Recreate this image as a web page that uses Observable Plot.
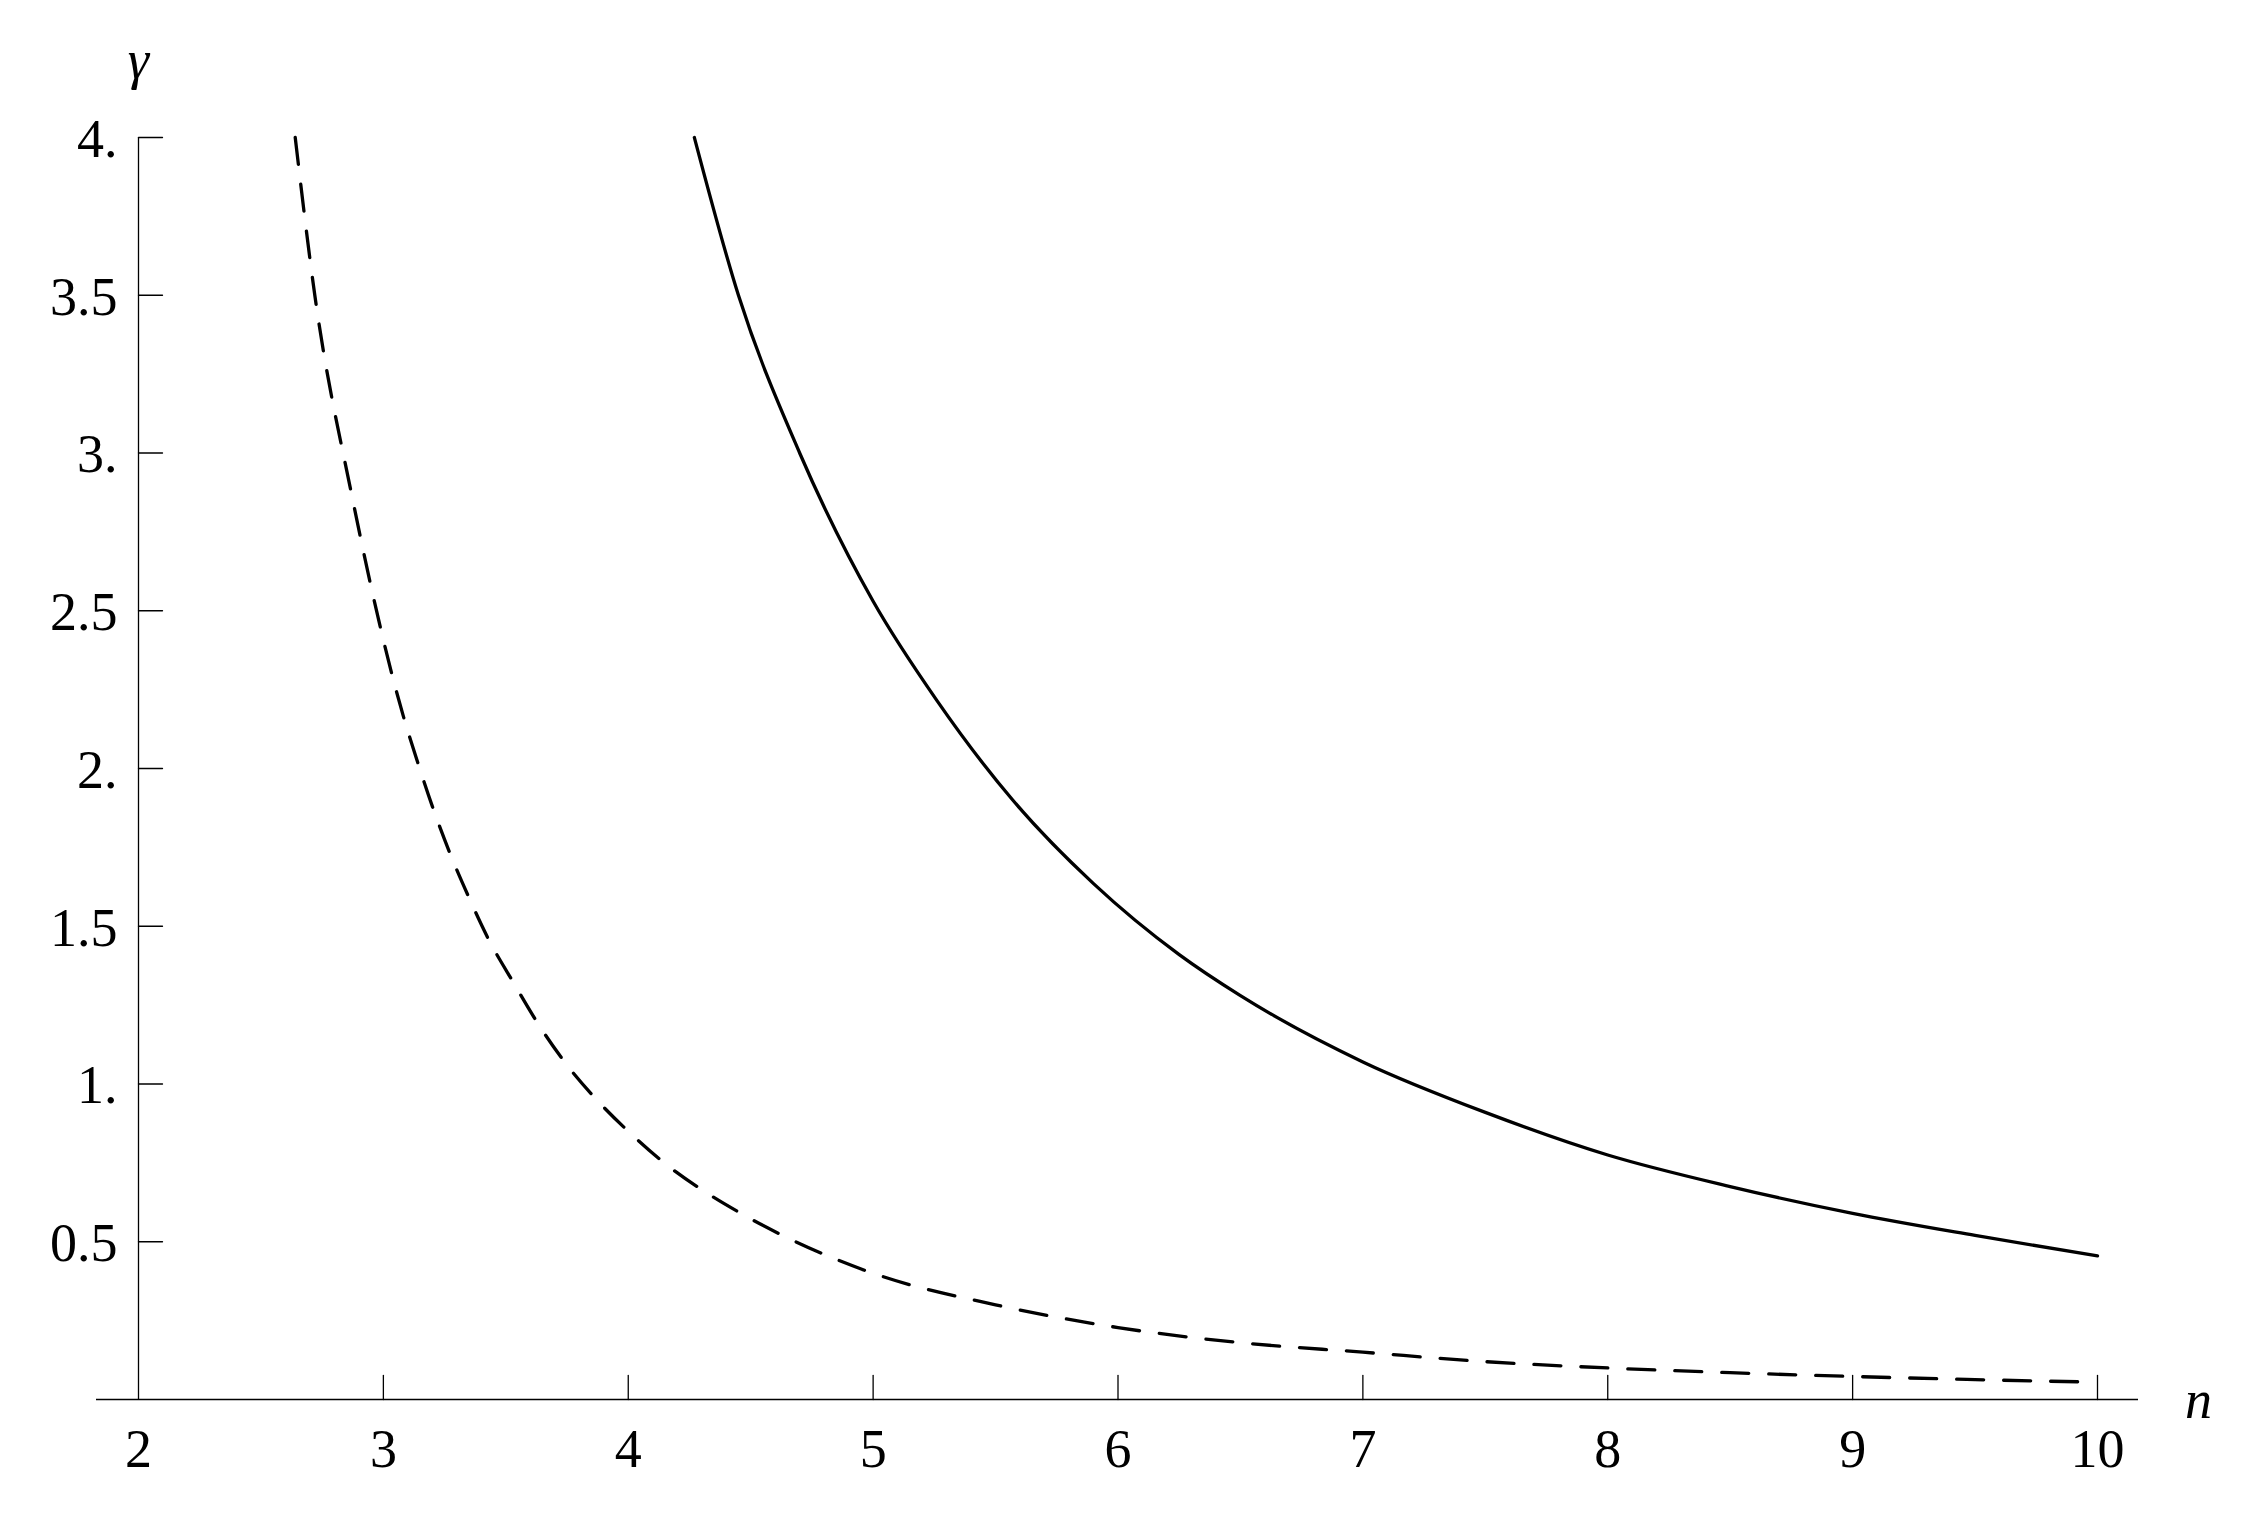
<!DOCTYPE html>
<html>
<head>
<meta charset="utf-8">
<script src="https://cdn.jsdelivr.net/npm/d3@7"></script>
<script src="https://cdn.jsdelivr.net/npm/@observablehq/plot@0.6"></script>
<style>
  html, body { margin: 0; padding: 0; background: #fff; overflow: hidden; }
</style>
</head>
<body>
<div id="chart"></div>
<script>
// ---- data ----
const xTicks = [2, 3, 4, 5, 6, 7, 8, 9, 10];
const xTickLabels = ["2", "3", "4", "5", "6", "7", "8", "9", "10"];
const yTicks = [0.5, 1, 1.5, 2, 2.5, 3, 3.5, 4];
const yTickLabels = ["0.5", "1.", "1.5", "2.", "2.5", "3.", "3.5", "4."];
const yDomain = [0, 4];

// solid curve
const solidN     = [4.27, 4.45, 4.70, 5.00, 5.26, 5.57, 5.90, 6.25, 6.50, 7.00, 7.50, 8.00, 8.50, 9.00, 9.50, 10.00];
const solidGamma = [4.00, 3.50, 3.00, 2.53, 2.216, 1.90, 1.635, 1.41, 1.28, 1.07, 0.91, 0.775, 0.675, 0.59, 0.52, 0.455];

// dashed curve
const dashedN     = [2.64, 2.72, 2.87, 3.08, 3.14, 3.20, 3.27, 3.35, 3.43, 3.53, 3.63, 3.74, 3.87, 4.01, 4.15, 4.32, 4.46, 5.00, 5.50, 6.00, 6.50, 7.00, 7.50, 8.00, 8.50, 9.00, 9.50, 10.00];
const dashedGamma = [4.00, 3.50, 2.87, 2.17, 2.02, 1.88, 1.735, 1.59, 1.458, 1.323, 1.193, 1.07, 0.951, 0.843, 0.748, 0.655, 0.59, 0.40, 0.30, 0.228, 0.18, 0.15, 0.12, 0.10, 0.085, 0.073, 0.063, 0.055];

// ---- build tables ----
const solid = solidN.map((n, i) => ({n, g: solidGamma[i]}));
const dashed = dashedN.map((n, i) => ({n, g: dashedGamma[i]}));

const tickShape = {
  draw(context, l) {
    context.moveTo(0, 0);
    context.lineTo(0, -l);
  }
};

const font = "'Liberation Serif', 'Times New Roman', serif";
const fs = 54;

const chart = Plot.plot({
  width: 2253,
  height: 1517,
  marginLeft: 96,
  marginRight: 115,
  marginTop: 137,
  marginBottom: 118,
  x: {domain: [xTicks[0], xTicks[xTicks.length - 1]], insetLeft: 42, insetRight: 41, axis: null},
  y: {domain: yDomain, axis: null},
  style: {background: "#fff", fontFamily: font, color: "#000"},
  marks: [
    // x axis line
    Plot.ruleY([yDomain[0]], {stroke: "#000", strokeWidth: 1.3}),
    // y axis line
    Plot.ruleX([xTicks[0]], {y1: yDomain[0], y2: yDomain[1], stroke: "#000", strokeWidth: 1.3}),
    // x ticks (inward, upward)
    Plot.vector(xTicks.slice(1), {x: d => d, y: yDomain[0], length: 24, rotate: 0, anchor: "start", shape: tickShape, stroke: "#000", strokeWidth: 1.3}),
    // y ticks (inward, rightward)
    Plot.vector(yTicks, {x: xTicks[0], y: d => d, length: 24, rotate: 90, anchor: "start", shape: tickShape, stroke: "#000", strokeWidth: 1.3}),
    // x tick labels
    Plot.text(xTicks, {x: d => d, y: yDomain[0], text: (d, i) => xTickLabels[i], dy: 50, lineAnchor: "middle", textAnchor: "middle", fontSize: fs, fill: "#000"}),
    // y tick labels
    Plot.text(yTicks, {x: xTicks[0], y: d => d, text: (d, i) => yTickLabels[i], dx: -21, dy: 2, textAnchor: "end", lineAnchor: "middle", fontSize: fs, fill: "#000"}),
    // axis labels
    Plot.text(["γ"], {x: xTicks[0], y: yDomain[1], text: d => d, dy: -60, lineAnchor: "bottom", textAnchor: "middle", fontSize: fs, fontStyle: "italic", fill: "#000"}),
    Plot.text(["n"], {x: xTicks[xTicks.length - 1], y: yDomain[0], text: d => d, dx: 101, dy: 18, lineAnchor: "bottom", textAnchor: "middle", fontSize: fs, fontStyle: "italic", fill: "#000"}),
    // curves
    Plot.line(dashed, {x: "n", y: "g", stroke: "#000", strokeWidth: 3.3, strokeDasharray: "27,20", curve: "monotone-x"}),
    Plot.line(solid, {x: "n", y: "g", stroke: "#000", strokeWidth: 3.3, curve: "monotone-x"})
  ]
});

document.getElementById("chart").appendChild(chart);
</script>
</body>
</html>
